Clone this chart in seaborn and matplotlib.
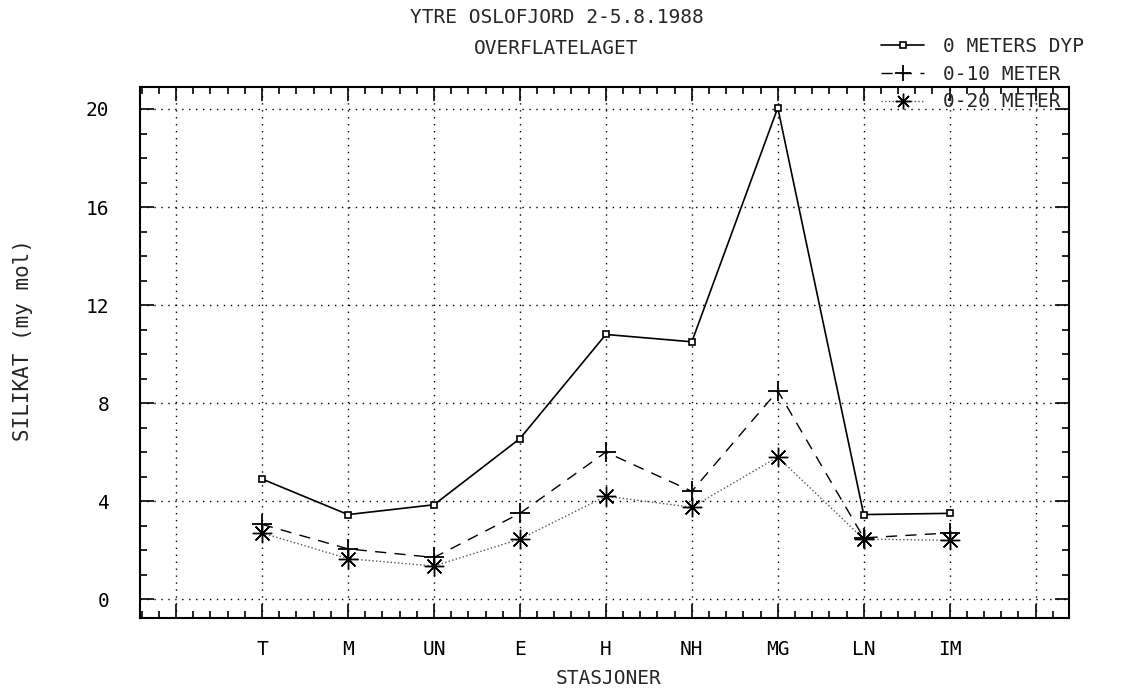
import pandas as pd
import matplotlib.pyplot as plt
import seaborn as sns
from matplotlib.lines import Line2D
from matplotlib.ticker import MultipleLocator, FixedLocator

# ---------------------- DATA ----------------------
stations = ["T", "M", "UN", "E", "H", "NH", "MG", "LN", "IM"]
depth_0 = [4.9, 3.45, 3.85, 6.55, 10.8, 10.5, 20.05, 3.45, 3.5]
depth_0_10 = [3.05, 2.05, 1.7, 3.5, 6.0, 4.4, 8.5, 2.5, 2.7]
depth_0_20 = [2.7, 1.65, 1.35, 2.45, 4.2, 3.75, 5.8, 2.45, 2.4]
series_names = ["0 METERS DYP", "0-10 METER", "0-20 METER"]

df = pd.DataFrame({
    "pos": list(range(len(stations))) * 3,
    "value": depth_0 + depth_0_10 + depth_0_20,
    "series": [s for s in series_names for _ in stations],
})

# ---------------------- PLOT CONFIGURATION ----------------------
sns.set_style("ticks")
plt.rcParams["font.family"] = ["DejaVu Sans Mono", "DejaVu Sans"]
FS = 14

fig = plt.figure(figsize=(11.29, 6.9), dpi=100)
ax = fig.add_axes([0.124, 0.104, 0.823, 0.770])

styles = {
    "0 METERS DYP": dict(ls="-", marker="s", ms=5, color="black", lw=1.2, mfc="white", mew=1.2),
    "0-10 METER": dict(ls=(0, (8, 6)), marker="+", ms=15, color="black", lw=1.0, mew=1.3),
    "0-20 METER": dict(ls=":", marker=(8, 2, 0), ms=14, color="#555555", lw=1.0, mew=1.0,
                       mec="black"),
}

for name in series_names:
    st = styles[name]
    sub = df[df["series"] == name]
    sns.lineplot(data=sub, x="pos", y="value", ax=ax, color=st["color"], linestyle=st["ls"],
                 marker=st["marker"], markersize=st["ms"], linewidth=st["lw"],
                 markeredgewidth=st["mew"], markerfacecolor=st.get("mfc", "black"),
                 markeredgecolor=st.get("mec", "black"), legend=False)

ax.set_xlim(-1.42, 9.39)
ax.set_ylim(-0.78, 20.9)

ax.xaxis.set_major_locator(FixedLocator(list(range(-1, len(stations) + 1))))
ax.set_xticklabels([""] + stations + [""])
ax.xaxis.set_minor_locator(MultipleLocator(0.2))
ax.yaxis.set_major_locator(MultipleLocator(4))
ax.yaxis.set_minor_locator(MultipleLocator(1))

ax.tick_params(which="both", direction="in", top=True, right=True, width=1.2, colors="black")
ax.tick_params(which="major", length=10, labelsize=FS)
ax.tick_params(which="minor", length=5)
ax.tick_params(axis="x", which="major", pad=16)
ax.tick_params(axis="y", which="major", pad=22)

ax.grid(True, which="major", linestyle=(0, (1, 4)), color="black", linewidth=1.0)
for sp in ax.spines.values():
    sp.set_linewidth(1.5)
    sp.set_color("black")

ax.set_xlabel("")
ax.set_ylabel("")
fig.text(0.539, 0.016, "STASJONER", ha="center", va="center", fontsize=FS)
fig.text(0.020, 0.507, "SILIKAT (my mol)", ha="center", va="center", rotation=90,
         fontsize=FS + 1)

fig.text(0.493, 0.974, "YTRE OSLOFJORD 2-5.8.1988", ha="center", va="center", fontsize=FS)
fig.text(0.493, 0.930, "OVERFLATELAGET", ha="center", va="center", fontsize=FS)

handles = []
for name in series_names:
    st = styles[name]
    handles.append(Line2D([], [], color=st["color"], linestyle=st["ls"], marker=st["marker"],
                          markersize=st["ms"] * 0.8, linewidth=st["lw"],
                          markeredgewidth=st["mew"], markerfacecolor=st.get("mfc", "black"),
                          markeredgecolor=st.get("mec", "black")))
fig.legend(handles, series_names, loc="upper left", bbox_to_anchor=(0.765, 0.972),
           frameon=False, fontsize=FS, handlelength=2.2, handletextpad=1.0,
           labelspacing=0.45)

plt.savefig("out.png", dpi=100)
